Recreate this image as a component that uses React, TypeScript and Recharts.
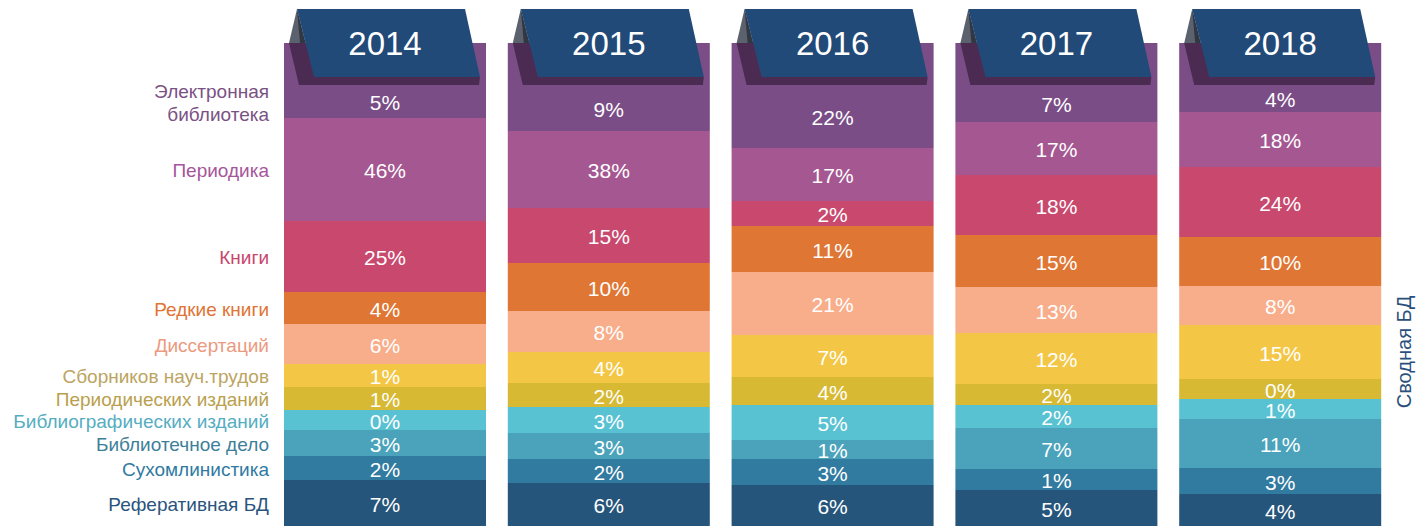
import { BarChart, Bar, XAxis, YAxis, LabelList } from 'recharts'

const years = ['2014', '2015', '2016', '2017', '2018']

// сверху вниз, как в колонке
const categories = [
  'Электронная библиотека',
  'Периодика',
  'Книги',
  'Редкие книги',
  'Диссертаций',
  'Сборников науч.трудов',
  'Периодических изданий',
  'Библиографических изданий',
  'Библиотечное дело',
  'Сухомлинистика',
  'Реферативная БД',
]

// подписи в процентах, по годам 2014..2018
const shares = [
  [5, 9, 22, 7, 4],
  [46, 38, 17, 17, 18],
  [25, 15, 2, 18, 24],
  [4, 10, 11, 15, 10],
  [6, 8, 21, 13, 8],
  [1, 4, 7, 12, 15],
  [1, 2, 4, 2, 0],
  [0, 3, 5, 2, 1],
  [3, 3, 1, 7, 11],
  [2, 2, 3, 1, 3],
  [7, 6, 6, 5, 4],
]

// высота полосы в колонке (вес), колонка всегда в сумме 483
const bands = [
  [75, 88, 105, 79, 69],
  [103, 77, 53, 53, 55],
  [71, 55, 25, 60, 70],
  [32, 48, 46, 52, 49],
  [40, 41, 63, 46, 39],
  [23, 31, 42, 51, 54],
  [23, 24, 28, 21, 20],
  [20, 26, 35, 23, 20],
  [26, 26, 19, 41, 49],
  [24, 24, 26, 21, 26],
  [46, 43, 41, 36, 32],
]

const barColors = [
  '#7a4d87', '#a55791', '#c8486e', '#df7634', '#f8ae8b', '#f3c745',
  '#d7b934', '#58c2d3', '#4aa3bb', '#317aa0', '#26557b',
]
const nameColors = [
  '#7b5183', '#a6569a', '#c9466f', '#e07434', '#eb9a80', '#bca461',
  '#b99f4e', '#55adc2', '#3d7f99', '#2f7aa2', '#2a547d',
]

const FONT = '"Liberation Sans", Arial, Helvetica, sans-serif'
const TAB_DROP = 42

const data = years.map((year, i) => {
  const row: Record<string, string | number> = { year }
  categories.forEach((_, c) => {
    row[`b${c}`] = bands[c][i]
    row[`p${c}`] = shares[c][i]
  })
  return row
})

const pts = (x: number, y: number, list: number[][]) =>
  list.map(([dx, dy]) => `${x + dx},${y + dy}`).join(' ')

// верхняя полоса + "ярлык" с годом
function TopShape(props: any) {
  const { x, y, width, height, fill, payload } = props
  return (
    <g>
      <rect x={x} y={y} width={width} height={height} fill={fill} />
      <polygon points={pts(x, y, [[5, 0], [15, 42], [195, 42], [196, 34], [22, 0]])} fill="#4b2b52" />
      <polygon points={pts(x, y, [[13, -34], [5, 0], [21.5, 0]])} fill="#5b616d" />
      <polygon points={pts(x, y, [[13, -34], [16, 0], [21.5, 0]])} fill="#323843" />
      <polygon points={pts(x, y, [[13, -34], [181, -34], [196, 34], [30, 34]])} fill="#224a78" />
      <text
        x={x + width / 2}
        y={y}
        textAnchor="middle"
        dominantBaseline="central"
        fill="#fff"
        fontSize={33}
        fontFamily={FONT}
      >
        {payload?.year}
      </text>
    </g>
  )
}

const makeLabel = (c: number) => (props: any) => {
  const vb = props.viewBox ?? props
  const { x, width } = vb
  let { y, height } = vb
  if (height < 0) { y += height; height = -height }
  const top = c === 0 ? y + TAB_DROP : y
  const cy = (top + y + height) / 2 + 1
  const words = categories[c].split(' ')
  const nx = x - 15
  return (
    <g>
      <text
        x={x + width / 2}
        y={cy}
        textAnchor="middle"
        dominantBaseline="central"
        fill="#fff"
        fontSize={21}
        fontFamily={FONT}
      >
        {`${props.value}%`}
      </text>
      {props.index === 0 && (
        <text
          x={nx}
          y={cy}
          textAnchor="end"
          dominantBaseline="central"
          fill={nameColors[c]}
          fontSize={19}
          fontFamily={FONT}
        >
          {c === 0 ? (
            <>
              <tspan x={nx} dy={-12}>{words[0]}</tspan>
              <tspan x={nx} dy={23}>{words[1]}</tspan>
            </>
          ) : categories[c]}
        </text>
      )}
    </g>
  )
}

export default function App() {
  const order = categories.map((_, c) => c).reverse()
  return (
    <div style={{ position: 'absolute', left: 0, top: 0, background: '#fff' }}>
      <BarChart
        width={1417}
        height={526}
        data={data}
        barSize={202}
        margin={{ top: 43, right: 25, bottom: 0, left: 273 }}
      >
        <YAxis hide domain={[0, 483]} />
        {order.map((c) => (
          <Bar
            key={c}
            dataKey={`b${c}`}
            stackId="s"
            fill={barColors[c]}
            isAnimationActive={false}
            shape={c === 0 ? TopShape : undefined}
          >
            <LabelList dataKey={`p${c}`} content={makeLabel(c)} />
          </Bar>
        ))}
        <XAxis dataKey="year" hide />
        <text
          x={1404}
          y={352}
          transform="rotate(-90 1404 352)"
          textAnchor="middle"
          dominantBaseline="central"
          fill="#2a4f7c"
          fontSize={20}
          fontFamily={FONT}
        >
          Сводная БД
        </text>
      </BarChart>
    </div>
  )
}
